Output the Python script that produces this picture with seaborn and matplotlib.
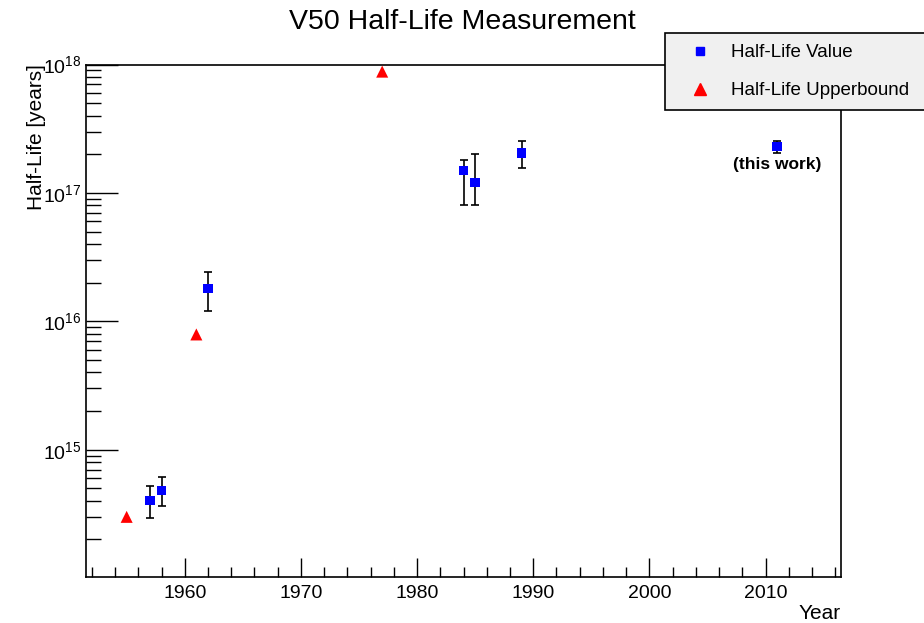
import matplotlib
matplotlib.use("Agg")
import matplotlib.pyplot as plt
import matplotlib.ticker as mticker
from matplotlib.lines import Line2D
import seaborn as sns
import pandas as pd
import numpy as np

# Data
value_years = [1957, 1958, 1962, 1984, 1985, 1989, 2011]
value_halflife = [4.0e14, 4.8e14, 1.8e16, 1.5e17, 1.2e17, 2.05e17, 2.3e17]
value_err_low = [2.95e14, 3.65e14, 1.2e16, 8.0e16, 8.0e16, 1.57e17, 2.06e17]
value_err_high = [5.2e14, 6.1e14, 2.4e16, 1.8e17, 2.0e17, 2.54e17, 2.54e17]

bound_years = [1955, 1961, 1977]
bound_halflife = [3.0e14, 7.9e15, 8.8e17]

title = "V50 Half-Life Measurement"
xlabel = "Year"
ylabel = "Half-Life [years]"
legend_labels = ["Half-Life Value", "Half-Life Upperbound"]
annotation = "(this work)"

sns.set_style("white")
plt.rcParams["font.family"] = ["Liberation Sans", "DejaVu Sans"]
plt.rcParams["mathtext.default"] = "regular"
plt.rcParams["text.color"] = "black"
plt.rcParams["axes.labelcolor"] = "black"
plt.rcParams["xtick.color"] = "black"
plt.rcParams["ytick.color"] = "black"

fig = plt.figure(figsize=(9.24, 6.23), dpi=100)
ax = fig.add_axes([86/924, 1-577/623, (841-86)/924, (577-64.5)/623])

df_v = pd.DataFrame({"year": value_years, "hl": value_halflife,
                     "lo": value_err_low, "hi": value_err_high})
df_b = pd.DataFrame({"year": bound_years, "hl": bound_halflife})

ax.errorbar(df_v["year"], df_v["hl"],
            yerr=[df_v["hl"] - df_v["lo"], df_v["hi"] - df_v["hl"]],
            fmt="none", ecolor="black", elinewidth=1.2, capsize=3, capthick=1.2, zorder=2)
sns.scatterplot(data=df_v, x="year", y="hl", marker="s", color="blue", s=45,
                edgecolor="none", ax=ax, zorder=3, legend=False)
sns.scatterplot(data=df_b, x="year", y="hl", marker="^", color="red", s=75,
                edgecolor="none", ax=ax, zorder=3, legend=False)

ax.set_yscale("log")
ax.set_xlim(1951.5, 2016.5)
ax.set_ylim(1.02e14, 1e18)

ax.xaxis.set_major_locator(mticker.MultipleLocator(10))
ax.xaxis.set_minor_locator(mticker.MultipleLocator(2))
ax.yaxis.set_major_locator(mticker.LogLocator(base=10, numticks=10))
ax.yaxis.set_minor_locator(mticker.LogLocator(base=10, subs=np.arange(2, 10), numticks=20))
ax.yaxis.set_minor_formatter(mticker.NullFormatter())

ax.tick_params(axis="both", which="both", direction="in", top=False, right=False,
               bottom=True, left=True, color="black", width=1.0)
ax.tick_params(axis="x", which="major", length=14, labelsize=14, pad=6)
ax.tick_params(axis="x", which="minor", length=7)
ax.tick_params(axis="y", which="major", length=23, labelsize=14, pad=3)
ax.tick_params(axis="y", which="minor", length=11)

for sp in ax.spines.values():
    sp.set_color("black")
    sp.set_linewidth(1.2)

ax.set_xlabel(xlabel, loc="right", fontsize=15, labelpad=1)
ax.set_ylabel(ylabel, loc="top", fontsize=15, labelpad=-2)
fig.suptitle(title, x=0.5, y=0.985, fontsize=20.5)

ax.text(2011, 1.65e17, annotation, ha="center", va="center", fontsize=12.5,
        fontweight="bold")

handles = [Line2D([], [], marker="s", color="blue", linestyle="none", markersize=6),
           Line2D([], [], marker="^", color="red", linestyle="none", markersize=8)]
leg = fig.legend(handles, legend_labels, loc="upper left",
                 bbox_to_anchor=(665/924, 1-109/623, 300/924, 76/623), mode="expand",
                 frameon=True, fancybox=False, facecolor="#f0f0f0", edgecolor="black",
                 framealpha=1, fontsize=13.5, borderaxespad=0, handletextpad=0.4,
                 labelspacing=1.1, borderpad=0.6, handlelength=2.5)
leg.get_frame().set_linewidth(1.2)

fig.savefig("out.png", dpi=100)
